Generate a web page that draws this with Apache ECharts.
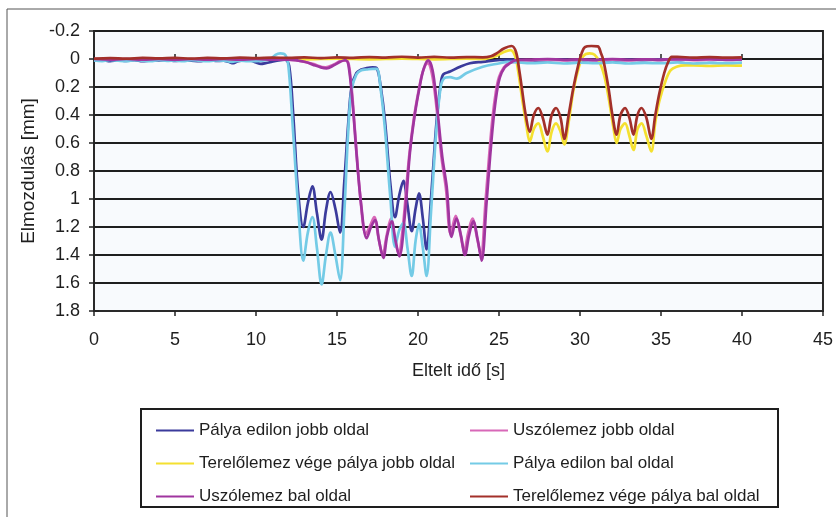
<!DOCTYPE html>
<html>
<head>
<meta charset="utf-8">
<script src="https://cdn.jsdelivr.net/npm/echarts@6/dist/echarts.min.js"></script>
<style>
  html, body { margin: 0; padding: 0; background: #ffffff; }
  #chart { width: 836px; height: 517px; }
</style>
</head>
<body>
<div id="chart"></div>
<script>
// Elmozdulás [mm] over Eltelt idő [s], six measuring points
const seriesNames = [
  'Pálya edilon jobb oldal',
  'Uszólemez jobb oldal',
  'Terelőlemez vége pálya jobb oldal',
  'Pálya edilon bal oldal',
  'Uszólemez bal oldal',
  'Terelőlemez vége pálya bal oldal'
];
const seriesColors = ['#3b3b9c', '#d868b8', '#f4e030', '#74cbe6', '#a0359f', '#a3302a'];

const xTickLabels = ['0', '5', '10', '15', '20', '25', '30', '35', '40', '45'];
const yTickLabels = ['-0.2', '0', '0.2', '0.4', '0.6', '0.8', '1', '1.2', '1.4', '1.6', '1.8'];

// [time s, displacement mm]
const palyaEdilonJobb = [
  [0,0.012],[0.5,0.008],[1,0.015],[1.5,0.01],[2,0.014],[2.5,0.008],[3,0.016],[3.5,0.01],
  [4,0.012],[4.5,0.006],[5,0.014],[5.5,0.01],[6,0.012],[6.5,0.015],[7,0.008],[7.5,0.014],
  [8,0.012],[8.3,0.02],[8.6,0.03],[8.9,0.015],[9.3,0.01],[9.7,0.012],[10,0.025],[10.3,0.035],
  [10.6,0.03],[11,0.02],[11.4,0.01],[11.8,0.005],[12.05,0.05],[12.3,0.4],[12.6,0.95],
  [12.92,1.2],[13.2,1.03],[13.48,0.91],[13.76,1.1],[14.05,1.29],[14.32,1.08],[14.6,0.95],
  [14.9,1.07],[15.19,1.24],[15.45,0.88],[15.7,0.45],[15.9,0.2],[16.2,0.1],[16.5,0.075],
  [16.83,0.065],[17.2,0.06],[17.45,0.065],[17.7,0.2],[17.96,0.44],[18.3,0.9],[18.58,1.13],
  [18.85,0.97],[19.1,0.87],[19.35,1.04],[19.61,1.23],[19.85,1.07],[20.06,0.96],[20.3,1.14],
  [20.53,1.36],[20.8,1.0],[21.15,0.44],[21.4,0.18],[21.56,0.11],[21.98,0.09],[22.6,0.055],
  [23.2,0.03],[24,0.02],[25.06,0.007],[26,0.005],[27,0.012],[28,0.008],[29,0.004],[30,0.01],
  [31,0.006],[32,0.012],[33,0.004],[34,0.008],[35,0.002],[36,0.008],[37,0.0],[38,0.006],
  [39,0.002],[40,0.004]
];
const uszolemezJobb = [
  [0,0.005],[1,0.0],[2,0.006],[3,0.002],[4,0.006],[5,0.0],[6,0.004],[7,0.006],[8,0.002],
  [9,0.006],[10,0.004],[11,0.002],[12,0.005],[12.8,0.015],[13.5,0.035],[14.3,0.06],[14.8,0.04],
  [15.3,0.012],[15.6,0.012],[15.85,0.15],[16.1,0.5],[16.45,1.0],[16.78,1.25],[17.05,1.19],
  [17.3,1.13],[17.55,1.27],[17.82,1.4],[18.05,1.27],[18.33,1.14],[18.55,1.27],[18.8,1.39],
  [19.05,1.22],[19.45,0.7],[19.75,0.42],[20.05,0.22],[20.3,0.09],[20.6,0.03],[20.85,0.1],
  [21.1,0.3],[21.45,0.7],[21.72,0.92],[22.02,1.25],[22.33,1.12],[22.6,1.24],[22.85,1.37],
  [23.1,1.24],[23.36,1.14],[23.65,1.28],[23.88,1.4],[24.18,1.0],[24.4,0.68],[24.6,0.42],
  [24.8,0.24],[25.0,0.13],[25.3,0.06],[25.6,0.03],[26,0.02],[27,0.01],[28,0.004],[29,0.01],
  [30,0.006],[31,0.012],[32,0.006],[33,0.01],[34,0.004],[35,0.008],[36,0.002],[37,0.008],
  [38,0.004],[39,0.0],[40,0.004]
];
const terelolemezJobb = [
  [0,0.002],[1,0.0],[2,0.003],[3,-0.002],[4,0.002],[5,0.0],[6,0.002],[7,-0.002],[8,0.001],
  [9,0.003],[10,0.0],[11,0.002],[12,0.0],[13,0.002],[14,0.0],[15,-0.002],[16,0.0],[17,0.002],
  [18,0.0],[19,-0.002],[20,0.0],[21,0.002],[22,0.0],[23,-0.002],[24,0.0],[24.8,-0.02],
  [25.3,-0.05],[25.7,-0.064],[26.0,-0.02],[26.2,0.1],[26.45,0.3],[26.7,0.48],[26.9,0.59],
  [27.15,0.5],[27.43,0.46],[27.7,0.55],[27.99,0.66],[28.25,0.52],[28.52,0.46],[28.8,0.52],
  [29.03,0.61],[29.3,0.45],[29.6,0.22],[29.9,0.07],[30.2,-0.02],[30.6,-0.04],[30.9,-0.03],
  [31.2,0.02],[31.5,0.12],[31.8,0.3],[32.05,0.48],[32.26,0.6],[32.5,0.5],[32.78,0.46],
  [33.05,0.55],[33.3,0.65],[33.55,0.5],[33.8,0.46],[34.1,0.55],[34.4,0.66],[34.65,0.45],
  [34.9,0.3],[35.3,0.15],[35.6,0.08],[35.96,0.055],[36.5,0.045],[37,0.045],[38,0.05],
  [39,0.045],[40,0.048]
];
const palyaEdilonBal = [
  [0,0.01],[0.5,0.015],[1,0.006],[1.5,0.012],[2,0.016],[2.5,0.008],[3,0.012],[3.5,0.016],
  [4,0.008],[4.5,0.014],[5,0.01],[5.5,0.016],[6,0.008],[6.5,0.012],[7,0.016],[7.5,0.01],
  [8,0.012],[8.5,0.02],[9,0.012],[9.5,0.016],[10,0.015],[10.5,0.01],[10.9,0.0],[11.2,-0.03],
  [11.5,-0.04],[11.8,-0.03],[12.0,0.05],[12.25,0.45],[12.6,1.05],[12.92,1.44],[13.2,1.24],
  [13.48,1.13],[13.76,1.35],[14.05,1.61],[14.32,1.4],[14.6,1.24],[14.9,1.4],[15.19,1.58],
  [15.45,1.1],[15.7,0.5],[15.9,0.22],[16.2,0.11],[16.5,0.08],[16.83,0.075],[17.2,0.07],
  [17.45,0.07],[17.7,0.22],[17.96,0.5],[18.3,1.0],[18.58,1.34],[18.85,1.22],[19.1,1.17],
  [19.35,1.35],[19.61,1.55],[19.85,1.3],[20.06,1.18],[20.3,1.35],[20.53,1.55],[20.8,1.1],
  [21.15,0.48],[21.4,0.2],[21.6,0.14],[21.98,0.13],[22.4,0.14],[23,0.1],[24,0.055],
  [25.06,0.03],[25.5,0.02],[26,0.022],[27,0.03],[28,0.025],[29,0.032],[30,0.026],[31,0.03],
  [32,0.024],[33,0.032],[34,0.028],[35,0.03],[36,0.025],[37,0.032],[38,0.028],[39,0.03],
  [40,0.026]
];
const uszolemezBal = [
  [0,0.0],[1,0.004],[2,0.0],[3,0.005],[4,0.0],[5,0.004],[6,0.0],[7,0.004],[8,0.0],[9,0.004],
  [10,0.0],[11,0.004],[12,0.005],[13,0.02],[13.5,0.04],[14,0.06],[14.36,0.067],[14.8,0.045],
  [15.2,0.02],[15.5,0.007],[15.7,0.04],[15.95,0.3],[16.2,0.67],[16.5,1.05],[16.83,1.28],
  [17.1,1.2],[17.35,1.15],[17.6,1.3],[17.86,1.42],[18.1,1.26],[18.38,1.16],[18.6,1.29],
  [18.85,1.41],[19.2,1.1],[19.5,0.67],[19.8,0.4],[20.1,0.2],[20.35,0.07],[20.63,0.01],
  [20.9,0.08],[21.15,0.31],[21.5,0.7],[21.77,0.91],[22.07,1.27],[22.38,1.14],[22.65,1.26],
  [22.9,1.4],[23.15,1.26],[23.41,1.16],[23.7,1.3],[23.93,1.44],[24.23,1.03],[24.45,0.7],
  [24.65,0.44],[24.85,0.25],[25.06,0.13],[25.35,0.06],[25.68,0.03],[26,0.01],[27,0.004],
  [28,0.0],[29,0.006],[30,0.002],[31,0.006],[32,0.0],[33,0.006],[34,0.002],[35,0.006],
  [36,0.0],[37,0.004],[38,0.0],[39,0.006],[40,0.002]
];
const terelolemezBal = [
  [0,-0.002],[1,-0.006],[2,-0.002],[3,-0.008],[4,-0.004],[5,-0.008],[6,-0.003],[7,-0.008],
  [8,-0.004],[9,-0.01],[10,-0.006],[11,-0.01],[12,-0.008],[13,-0.012],[14,-0.006],[15,-0.012],
  [16,-0.008],[17,-0.014],[18,-0.01],[19,-0.016],[20,-0.01],[21,-0.015],[22,-0.01],[23,-0.014],
  [24,-0.012],[24.5,-0.02],[24.85,-0.04],[25.3,-0.075],[25.78,-0.093],[26.05,-0.05],
  [26.25,0.08],[26.4,0.2],[26.65,0.4],[26.9,0.52],[27.15,0.4],[27.43,0.35],[27.7,0.42],
  [27.99,0.54],[28.25,0.4],[28.52,0.35],[28.8,0.42],[29.03,0.57],[29.3,0.4],[29.6,0.2],
  [29.9,0.04],[30.1,-0.04],[30.3,-0.085],[30.7,-0.093],[31.1,-0.09],[31.3,-0.04],[31.44,0.007],
  [31.75,0.2],[32.0,0.4],[32.26,0.54],[32.5,0.4],[32.78,0.35],[33.05,0.42],[33.3,0.54],
  [33.55,0.4],[33.8,0.35],[34.1,0.42],[34.4,0.57],[34.65,0.4],[34.9,0.245],[35.2,0.1],
  [35.45,0.02],[35.66,-0.015],[36,-0.015],[37,-0.01],[38,-0.014],[39,-0.01],[40,-0.012]
];

const seriesData = [palyaEdilonJobb, uszolemezJobb, terelolemezJobb, palyaEdilonBal, uszolemezBal, terelolemezBal];

const FONT = "'Liberation Sans', Arial, sans-serif";
const TXT = '#1e1e1e';

const chart = echarts.init(document.getElementById('chart'), null, { renderer: 'canvas' });

// companion axes that only draw the inner half of the crossing tick marks
const innerTickAxis = {
  axisLabel: { show: false },
  axisLine: { show: false },
  splitLine: { show: false },
  axisTick: { show: true, inside: true, length: 5, lineStyle: { color: '#222', width: 1.5 } }
};

const legendCommon = {
  orient: 'vertical', top: 422, padding: 0,
  itemWidth: 38, itemHeight: 2, itemGap: 16, icon: 'rect',
  textStyle: { fontSize: 17, color: TXT, fontFamily: FONT }
};

chart.setOption({
  backgroundColor: '#ffffff',
  animation: false,
  textStyle: { fontFamily: FONT },
  grid: {
    left: 94, right: 13, top: 31, bottom: 206,
    show: true, backgroundColor: '#f8fafd', borderColor: '#2a2a2a', borderWidth: 2
  },
  graphic: [
    { type: 'rect', shape: { x: 7, y: 9, width: 840, height: 520 },
      style: { fill: 'none', stroke: '#555', lineWidth: 1 }, silent: true, z: -1 },
    { type: 'rect', shape: { x: 141, y: 409, width: 637, height: 98 },
      style: { fill: '#ffffff', stroke: '#1e1e1e', lineWidth: 2 }, silent: true, z: 0 }
  ],
  xAxis: [
    {
      type: 'value', min: 0, max: 45, interval: 5,
      name: 'Eltelt idő [s]', nameLocation: 'middle', nameGap: 51,
      nameTextStyle: { fontSize: 18, color: TXT, fontFamily: FONT },
      axisLine: { show: true, onZero: false, lineStyle: { color: '#2a2a2a', width: 2 } },
      axisTick: { show: true, length: 5, lineStyle: { color: '#222', width: 1.5 } },
      axisLabel: {
        margin: 20, fontSize: 18, color: TXT, fontFamily: FONT,
        formatter: v => xTickLabels[Math.round(v / 5)]
      },
      splitLine: { show: false }
    },
    Object.assign({ type: 'value', min: 0, max: 45, interval: 5, position: 'bottom' }, innerTickAxis)
  ],
  yAxis: [
    {
      type: 'value', min: -0.2, max: 1.8, interval: 0.2, inverse: true,
      name: 'Elmozdulás [mm]', nameLocation: 'middle', nameGap: 42, nameRotate: 90,
      nameTextStyle: { fontSize: 19, color: TXT, fontFamily: FONT },
      axisLine: { show: true, onZero: false, lineStyle: { color: '#2a2a2a', width: 2 } },
      axisTick: { show: true, length: 5, lineStyle: { color: '#222', width: 1.5 } },
      axisLabel: {
        margin: 14, fontSize: 18, color: TXT, fontFamily: FONT,
        formatter: v => yTickLabels[Math.round((v + 0.2) / 0.2)]
      },
      splitLine: { show: true, lineStyle: { color: '#1e1e1e', width: 2 } }
    },
    Object.assign({ type: 'value', min: -0.2, max: 1.8, interval: 0.2, inverse: true, position: 'left' }, innerTickAxis)
  ],
  legend: [
    Object.assign({ data: [seriesNames[0], seriesNames[2], seriesNames[4]], left: 156 }, legendCommon),
    Object.assign({ data: [seriesNames[1], seriesNames[3], seriesNames[5]], left: 470 }, legendCommon)
  ],
  series: seriesNames.map((name, i) => ({
    name: name,
    type: 'line',
    data: seriesData[i],
    xAxisIndex: 0,
    yAxisIndex: 0,
    symbol: 'none',
    smooth: 0.35,
    color: seriesColors[i],
    lineStyle: { width: 2.7, color: seriesColors[i] },
    z: 2 + i
  }))
});
</script>
</body>
</html>
